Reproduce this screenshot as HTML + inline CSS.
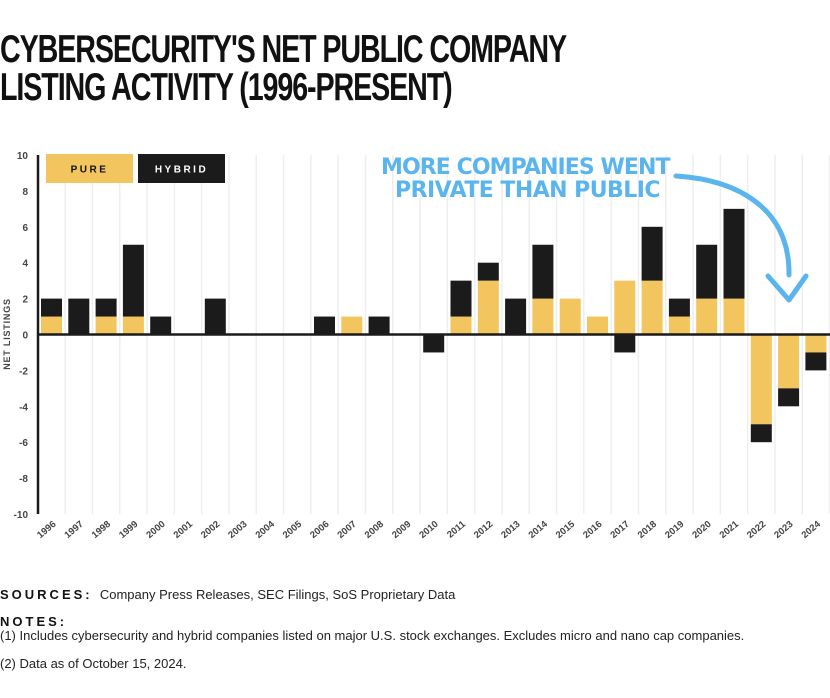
<!DOCTYPE html>
<html><head><meta charset="utf-8"><style>
body{margin:0;background:#fff;width:830px;height:698px;overflow:hidden;font-family:"Liberation Sans",sans-serif}
h1{position:absolute;left:0;top:31px;margin:0;font-family:"Liberation Sans Narrow","Liberation Sans",sans-serif;font-weight:bold;font-size:39px;line-height:38px;letter-spacing:-1.5px;transform:scaleX(0.735);transform-origin:left;color:#111;white-space:nowrap}
.t{position:absolute;left:0;font-size:13px;color:#222}
.b{font-weight:bold;letter-spacing:3px;color:#111}
</style></head><body>
<h1>CYBERSECURITY'S NET PUBLIC COMPANY<br>LISTING ACTIVITY (1996-PRESENT)</h1>
<svg id="c" width="830" height="580" style="position:absolute;left:0;top:0"></svg>
<div class="t" style="top:587px"><span class="b">SOURCES:</span>&nbsp; Company Press Releases, SEC Filings, SoS Proprietary Data</div>
<div class="t b" style="top:614px;font-size:13px">NOTES:</div>
<div class="t" style="top:628px">(1) Includes cybersecurity and hybrid companies listed on major U.S. stock exchanges. Excludes micro and nano cap companies.</div>
<div class="t" style="top:656px">(2) Data as of October 15, 2024.</div>
<script>
const years=[1996,1997,1998,1999,2000,2001,2002,2003,2004,2005,2006,2007,2008,2009,2010,2011,2012,2013,2014,2015,2016,2017,2018,2019,2020,2021,2022,2023,2024];
const pure=[1,0,1,1,0,0,0,0,0,0,0,1,0,0,0,1,3,0,2,2,1,3,3,1,2,2,-5,-3,-1];
const hybrid=[1,2,1,4,1,0,2,0,0,0,1,0,1,0,-1,2,1,2,3,0,0,-1,3,1,3,5,-1,-1,-1];
const yTicks=[10,8,6,4,2,0,-2,-4,-6,-8,-10];
const NS="http://www.w3.org/2000/svg",svg=document.getElementById('c');
const y=v=>334.5-v*17.95, x=i=>51.5+i*27.3, bw=21;
function mk(t,a){const e=document.createElementNS(NS,t);for(const k in a)e.setAttribute(k,a[k]);svg.appendChild(e);return e;}
years.forEach((yr,i)=>{const g=mk('line',{x1:x(i)+13.65,x2:x(i)+13.65,y1:155,y2:514,stroke:'#eeeeee','stroke-width':1.5});
});
yTicks.forEach(v=>{const t=mk('text',{x:28,y:y(v)+4,'text-anchor':'end','font-size':10,'font-weight':'bold',fill:'#444'});t.textContent=v;
});
const yt=mk('text',{x:0,y:0,transform:'translate(10,334) rotate(-90)','text-anchor':'middle','font-size':9,'font-weight':'bold',fill:'#444','letter-spacing':0.8});
yt.textContent='NET LISTINGS';
years.forEach((yr,i)=>{
 const p=pure[i],h=hybrid[i];
 if(p){const r=mk('rect',{x:x(i)-bw/2,y:Math.min(y(0),y(p)),width:bw,height:Math.abs(y(p)-y(0)),fill:'#f3c55e'});
  }
 if(h){const b=p, t=p+h; const r=mk('rect',{x:x(i)-bw/2,y:Math.min(y(b),y(t)),width:bw,height:Math.abs(y(t)-y(b)),fill:'#1b1b1b'});
  if(h<0&&p>=0){r.setAttribute('y',y(0));r.setAttribute('height',Math.abs(y(h)-y(0)));}
  }
 const lx=x(i)+5,ly=525;
 const t=mk('text',{x:lx,y:ly,transform:`rotate(-40 ${lx} ${ly})`,'text-anchor':'end','font-size':9.5,'font-weight':'bold',fill:'#444'});
 t.textContent=yr;
});
const z=mk('line',{x1:37,x2:830,y1:y(0),y2:y(0),stroke:'#1b1b1b','stroke-width':2.5});

const ax=mk('line',{x1:38,x2:38,y1:155,y2:514,stroke:'#1b1b1b','stroke-width':2.5});

const l1=mk('rect',{x:46,y:154,width:87,height:29,fill:'#f3c55e'});
const l2=mk('rect',{x:138,y:154,width:87,height:29,fill:'#1b1b1b'});
const lt1=mk('text',{x:89.5,y:172.5,'text-anchor':'middle','font-size':10,'font-weight':'bold',fill:'#111','letter-spacing':2.5});lt1.textContent='PURE';

const lt2=mk('text',{x:181.5,y:172.5,'text-anchor':'middle','font-size':10,'font-weight':'bold',fill:'#fff','letter-spacing':2.5});lt2.textContent='HYBRID';

const a1=mk('text',{x:526,y:174,'text-anchor':'middle','font-size':22,'font-weight':'bold',fill:'#5ab4ee','font-family':'"DejaVu Sans",sans-serif','letter-spacing':0.5,textLength:290});a1.textContent='MORE COMPANIES WENT';

const a2=mk('text',{x:528,y:197,'text-anchor':'middle','font-size':22,'font-weight':'bold',fill:'#5ab4ee','font-family':'"DejaVu Sans",sans-serif','letter-spacing':0.5,textLength:266});a2.textContent='PRIVATE THAN PUBLIC';

const ar=mk('path',{d:'M676 176 C740 180 790 210 789 275',fill:'none',stroke:'#5ab4ee','stroke-width':5,'stroke-linecap':'round'});

const ah=mk('path',{d:'M768 276 L789 300 L806 276',fill:'none',stroke:'#5ab4ee','stroke-width':5,'stroke-linecap':'round','stroke-linejoin':'round'});

</script>
</body></html>
